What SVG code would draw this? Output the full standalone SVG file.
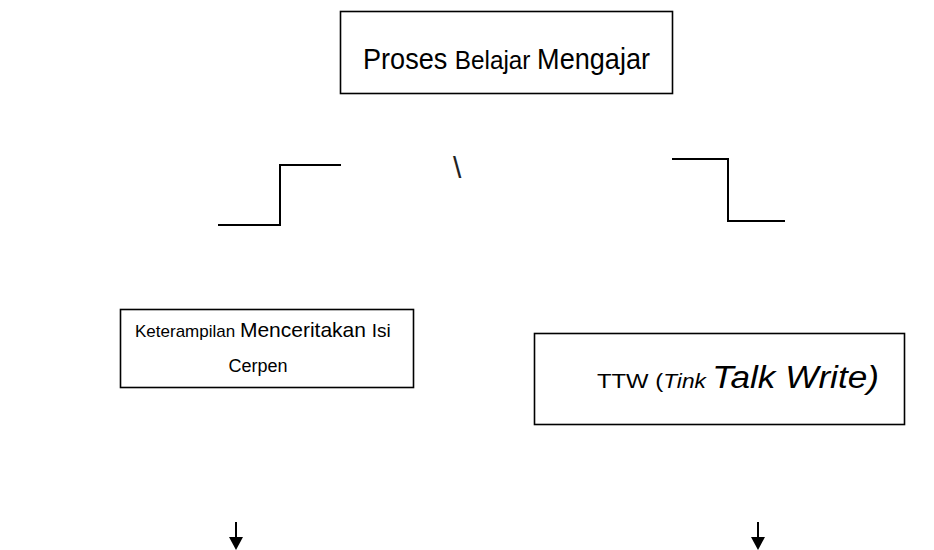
<svg xmlns="http://www.w3.org/2000/svg" width="934" height="550" viewBox="0 0 934 550">
<style>
.box{fill:#fff;stroke:#000;stroke-width:1.6}
.t{font-family:"Liberation Sans",Arial,sans-serif;fill:#000}
.conn{fill:none;stroke:#000;stroke-width:2}
</style>
<defs>
<marker id="ah" viewBox="0 -8 14 16" refX="0" refY="0" markerWidth="14" markerHeight="16" markerUnits="userSpaceOnUse" orient="auto">
<path d="M0,-7 L13,0 L0,7 z" fill="#000"/>
</marker>
</defs>
<rect width="934" height="550" fill="#fff"/>
<g id="node-proses">
<rect class="box" x="340.5" y="11.5" width="332" height="82"/>
<text class="t" x="363" y="69" textLength="287" lengthAdjust="spacingAndGlyphs"><tspan font-size="29">Proses </tspan><tspan font-size="26">Belajar </tspan><tspan font-size="29">Mengajar</tspan></text>
</g>
<g id="node-keterampilan">
<rect class="box" x="120.5" y="309.5" width="293" height="78"/>
<text class="t" x="135" y="337"><tspan font-size="17">Keterampilan </tspan><tspan font-size="21">Menceritakan </tspan><tspan font-size="19">Isi</tspan></text>
<text class="t" x="258" y="372" font-size="18" text-anchor="middle">Cerpen</text>
</g>
<g id="node-ttw">
<rect class="box" x="534.5" y="333.5" width="370" height="91"/>
<text class="t" x="597" y="388" textLength="282" lengthAdjust="spacingAndGlyphs"><tspan font-size="21">TTW (</tspan><tspan font-size="20" font-style="italic">Tink </tspan><tspan font-size="31" font-style="italic">Talk Write)</tspan></text>
</g>
<g id="connectors">
<polyline class="conn" points="218,225 280,225 280,165 341,165"/>
<polyline class="conn" points="672,159 728,159 728,221 785,221"/>
<text x="453" y="178" font-size="30" fill="#222" font-family="'Liberation Sans',Arial,sans-serif">\</text>
<line class="conn" x1="236" y1="522" x2="236" y2="537" marker-end="url(#ah)"/>
<line class="conn" x1="758" y1="522" x2="758" y2="537" marker-end="url(#ah)"/>
</g>
</svg>
